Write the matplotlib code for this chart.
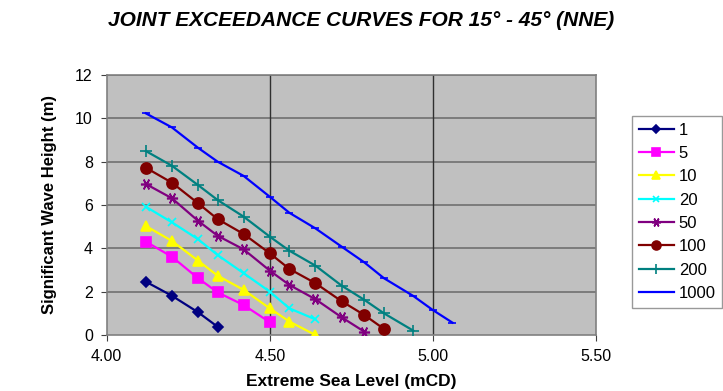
import matplotlib
matplotlib.use("Agg")
import matplotlib.pyplot as plt

plt.rcParams['font.family'] = ['Liberation Sans', 'DejaVu Sans']

title = "JOINT EXCEEDANCE CURVES FOR 15° - 45° (NNE)"
x_label = "Extreme Sea Level (mCD)"
y_label = "Significant Wave Height (m)"

x_all = [4.12, 4.20, 4.28, 4.34, 4.42, 4.50, 4.56, 4.64, 4.72, 4.79, 4.85, 4.94, 5.00, 5.06]

labels = ["1", "5", "10", "20", "50", "100", "200", "1000"]
y_1 = [2.46, 1.81, 1.05, 0.38]
y_5 = [4.31, 3.61, 2.62, 1.97, 1.38, 0.59]
y_10 = [5.03, 4.34, 3.43, 2.74, 2.08, 1.23, 0.62, 0.0]
y_20 = [5.92, 5.20, 4.42, 3.69, 2.85, 2.00, 1.23, 0.72]
y_50 = [6.97, 6.31, 5.27, 4.58, 3.95, 2.97, 2.31, 1.65, 0.82, 0.15]
y_100 = [7.72, 7.03, 6.08, 5.35, 4.66, 3.77, 3.05, 2.39, 1.56, 0.92, 0.28]
y_200 = [8.49, 7.81, 6.92, 6.23, 5.46, 4.54, 3.89, 3.20, 2.28, 1.62, 1.00, 0.20]
y_1000 = [10.23, 9.58, 8.64, 8.00, 7.34, 6.38, 5.64, 4.92, 4.08, 3.35, 2.62, 1.80, 1.15, 0.57]

series = [y_1, y_5, y_10, y_20, y_50, y_100, y_200, y_1000]
colors = ["#000080", "#FF00FF", "#FFFF00", "#00FFFF", "#800080", "#800000", "#008080", "#0000FF"]
markers = ["D", "s", "^", "x", (6, 2, 90), "o", "+", "_"]
msizes = [5, 7, 7, 6, 8, 8, 9, 6]

fig = plt.figure(figsize=(7.23, 3.91), dpi=100)
ax = fig.add_axes([106.7 / 723, 1 - 335 / 391, (596 - 106.7) / 723, (335 - 75) / 391])
ax.set_facecolor("#C0C0C0")

for ys, lab, c, m, ms in zip(series, labels, colors, markers, msizes):
    xs = x_all[:len(ys)]
    ax.plot(xs, ys, color=c, marker=m, markersize=ms, linewidth=1.6, label=lab,
            markeredgecolor=c, markerfacecolor=c, markeredgewidth=1.2, zorder=3)

ax.set_xlim(4.0, 5.5)
ax.set_ylim(0, 12)
ax.set_xticks([4.0, 4.5, 5.0, 5.5])
ax.set_xticklabels(["4.00", "4.50", "5.00", "5.50"])
ax.set_yticks(range(0, 13, 2))

for yv in range(2, 13, 2):
    ax.axhline(yv, color="#707070", linewidth=1.2, zorder=1)
for xv in [4.5, 5.0]:
    ax.axvline(xv, color="#303030", linewidth=1.0, zorder=1)

for side in ["top", "right", "left", "bottom"]:
    ax.spines[side].set_color("#808080")
    ax.spines[side].set_linewidth(1.2)

ax.tick_params(axis="both", labelsize=11.5, length=4, color="#404040", direction="out", pad=6)

ax.set_xlabel(x_label, fontsize=12.5, fontweight="bold", labelpad=7)
ax.set_ylabel(y_label, fontsize=12, fontweight="bold", labelpad=13)

fig.text(0.5, 1 - 21 / 391, title, ha="center", va="center", fontsize=15,
         fontweight="bold", fontstyle="italic")

leg = fig.legend(loc="upper left", bbox_to_anchor=(632 / 723, 1 - 116 / 391),
                 fontsize=12, frameon=True, fancybox=False, edgecolor="#808080",
                 handlelength=2.1, labelspacing=0.5, borderpad=0.4, handletextpad=0.3,
                 borderaxespad=0, markerscale=0.8)
leg.get_frame().set_linewidth(1.0)

fig.savefig("out.png", dpi=100, facecolor="white")
